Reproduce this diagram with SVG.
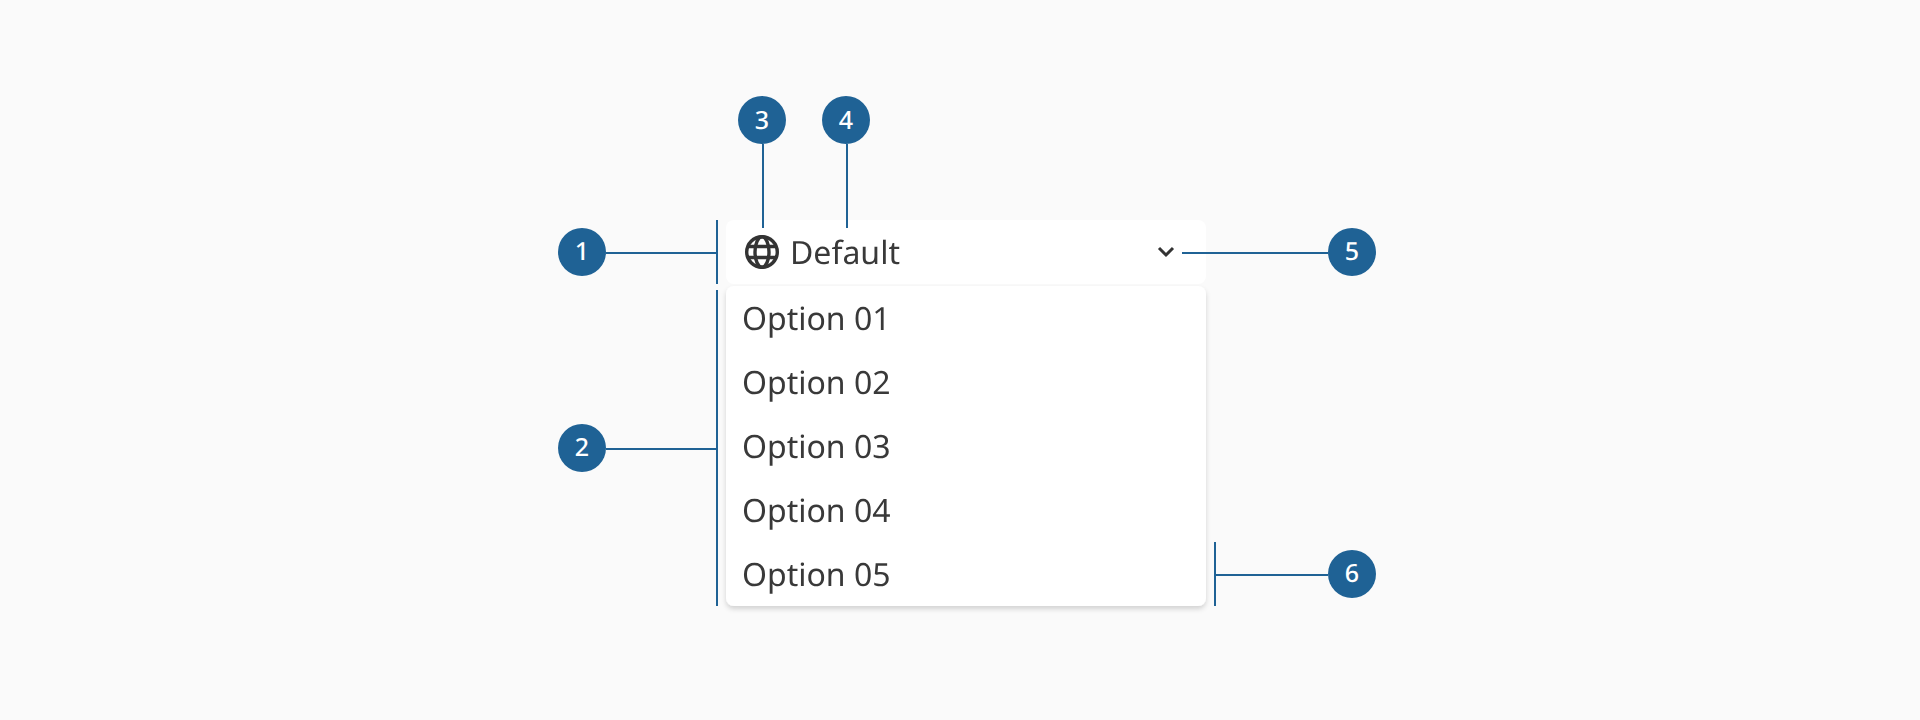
<svg xmlns="http://www.w3.org/2000/svg" width="1920" height="720" viewBox="0 0 1920 720">
<style>
.t{font-family:"Noto Sans","Open Sans",sans-serif;font-size:32px;font-weight:400;fill:#333333;opacity:.97;text-rendering:geometricPrecision}
.n{font-family:"Noto Sans","Open Sans",sans-serif;font-size:25px;font-weight:500;fill:#ffffff;text-anchor:middle;text-rendering:geometricPrecision}
.b{fill:#1f6295}
.c{stroke:#1f6295;stroke-width:2;fill:none}
.i{stroke:#333333;fill:none}
</style>
<defs>
<filter id="sh" x="-5%" y="-5%" width="110%" height="112%"><feDropShadow dx="0" dy="3" stdDeviation="2.5" flood-color="#000000" flood-opacity="0.16"/></filter>
</defs>
<rect id="background" width="1920" height="720" fill="#fafafa"/>
<g id="select-head"><rect x="726" y="220" width="480" height="64" rx="8" fill="#ffffff"/>
<g id="globe" class="i" stroke-width="3.4"><circle cx="762" cy="252" r="15.3"/><ellipse cx="762" cy="252" rx="7" ry="15.3"/><path d="M748 246.5H776M748 257.5H776"/></g>
<text class="t" x="790" y="264">Default</text>
<path class="i" stroke-width="3" d="M1159 248L1166 255L1173 248"/></g>
<g id="select-list"><rect x="726" y="286" width="480" height="320" rx="8" fill="#ffffff" filter="url(#sh)"/>
<text class="t" x="742" y="330">Option 01</text>
<text class="t" x="742" y="394">Option 02</text>
<text class="t" x="742" y="458">Option 03</text>
<text class="t" x="742" y="522">Option 04</text>
<text class="t" x="742" y="586">Option 05</text></g>
<g id="connectors" class="c">
<path d="M606 253H717M717 220V284"/>
<path d="M606 449H717M717 290V606"/>
<path d="M763 144V228"/>
<path d="M847 144V228"/>
<path d="M1182 253H1328"/>
<path d="M1328 575H1215M1215 542V606"/>
</g>
<g id="n1"><circle class="b" cx="582" cy="252" r="24"/><text class="n" x="582" y="260">1</text></g>
<g id="n2"><circle class="b" cx="582" cy="448" r="24"/><text class="n" x="582" y="456">2</text></g>
<g id="n3"><circle class="b" cx="762" cy="120" r="24"/><text class="n" x="762" y="129">3</text></g>
<g id="n4"><circle class="b" cx="846" cy="120" r="24"/><text class="n" x="846" y="129">4</text></g>
<g id="n5"><circle class="b" cx="1352" cy="252" r="24"/><text class="n" x="1352" y="260">5</text></g>
<g id="n6"><circle class="b" cx="1352" cy="574" r="24"/><text class="n" x="1352" y="582">6</text></g>
</svg>
